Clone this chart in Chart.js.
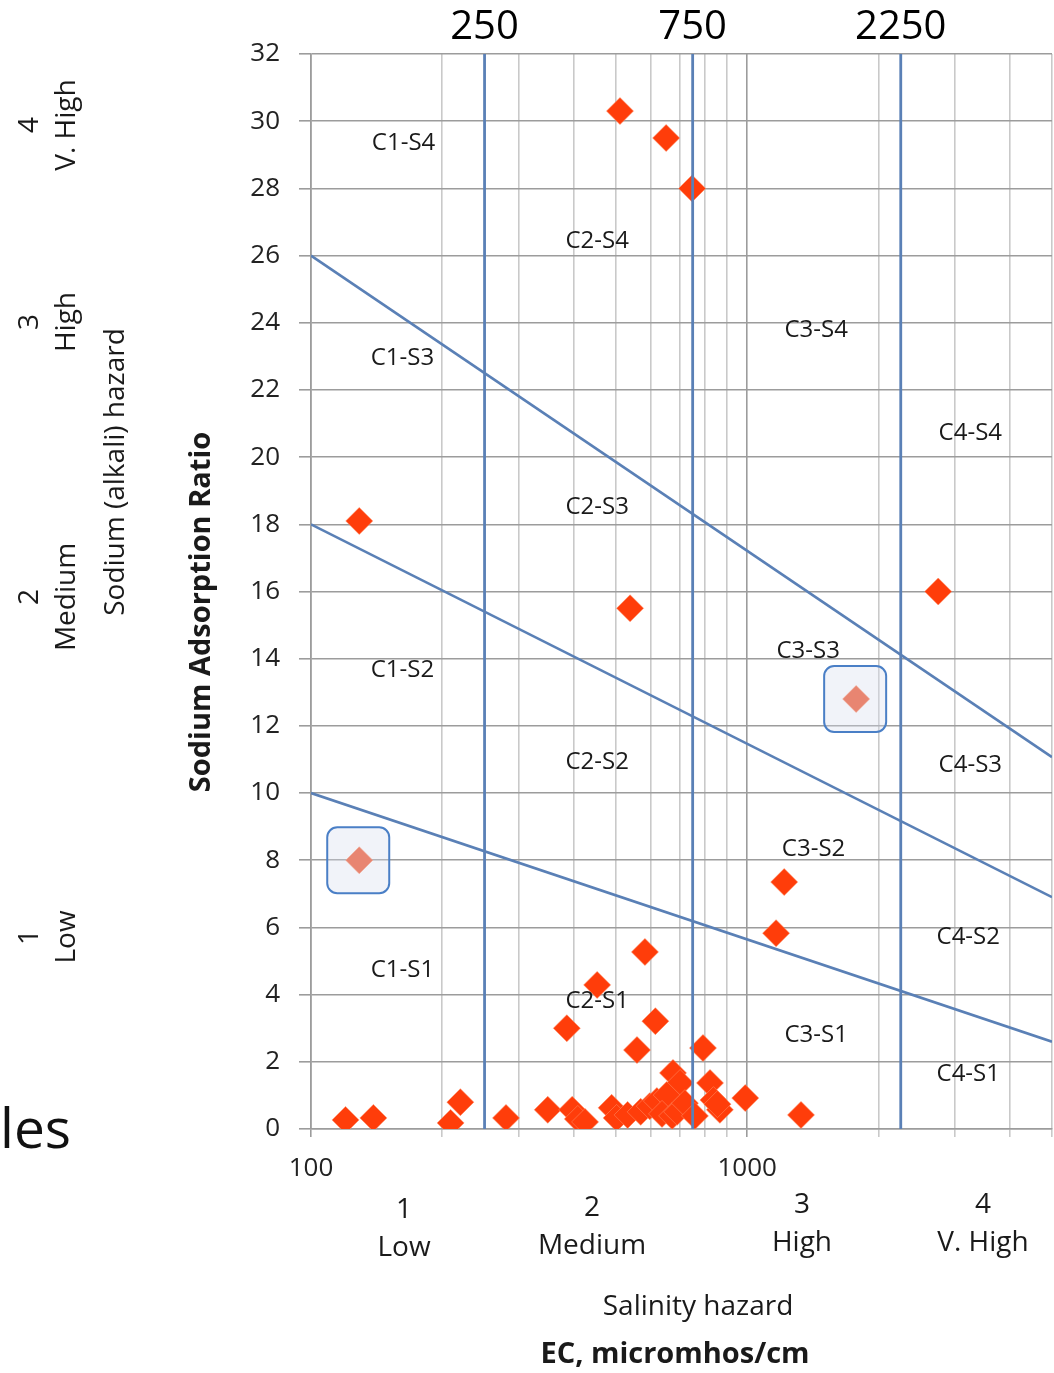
<!DOCTYPE html>
<html>
<head>
<meta charset="utf-8">
<script src="https://cdn.jsdelivr.net/npm/chart.js@4.4.1/dist/chart.umd.min.js"></script>
<style>
html,body{margin:0;padding:0;background:#fff;}
canvas{display:block;}
</style>
</head>
<body>
<canvas id="c" width="1054" height="1373"></canvas>
<script>
// ---- data ----
const sampleEC  = [511, 652, 748, 129, 539, 2742, 1216, 1165, 583, 453,
                   386, 616, 559, 792, 676, 702, 822, 990, 1329, 120,
                   139, 209, 220, 280, 349, 397, 409, 425, 489, 502,
                   532, 570, 598, 621, 654, 638, 673, 691, 720, 759,
                   837, 866, 855];
const sampleSAR = [30.3, 29.5, 28.0, 18.1, 15.5, 16.0, 7.35, 5.83, 5.27, 4.29,
                   3.0, 3.21, 2.35, 2.41, 1.67, 1.37, 1.37, 0.92, 0.42, 0.27,
                   0.33, 0.18, 0.8, 0.33, 0.57, 0.57, 0.3, 0.21, 0.63, 0.33,
                   0.42, 0.51, 0.68, 0.83, 1.01, 0.45, 0.39, 0.51, 0.77, 0.39,
                   0.86, 0.57, 0.74];
const highlightedEC  = [1778, 129];
const highlightedSAR = [12.8, 8.0];

const salinityClassEC = [250, 750, 2250];
const salinityClassLabels = ['250', '750', '2250'];
const sarRange = [0, 32];
const hazardLineEC = [100, 5000];
const hazardLineS3S4 = [26, 11.07];
const hazardLineS2S3 = [18, 6.9];
const hazardLineS1S2 = [10, 2.6];

const ecRange = [100, 5000];
const ecGridTicks = [100, 200, 300, 400, 500, 600, 700, 800, 900, 1000, 2000, 3000, 4000, 5000];
const ecTickLabels = [100, 1000];
const sarStep = 2;

const zoneNames = ['C1-S4','C2-S4','C3-S4','C4-S4',
                   'C1-S3','C2-S3','C3-S3','C4-S3',
                   'C1-S2','C2-S2','C3-S2','C4-S2',
                   'C1-S1','C2-S1','C3-S1','C4-S1'];
const zoneEC  = [163, 453, 1440, 3248,
                 162, 453, 1380, 3248,
                 162, 453, 1420, 3213,
                 162, 453, 1440, 3213];
const zoneSAR = [29.35, 26.43, 23.78, 20.71,
                 22.95, 18.51, 14.23, 10.83,
                 13.66, 10.92, 8.33, 5.71,
                 4.73, 3.81, 2.80, 1.64];

const sodiumClassNumbers = ['4', '3', '2', '1'];
const sodiumClassNames = ['V. High', 'High', 'Medium', 'Low'];
const salinityClassNumbers = ['1', '2', '3', '4'];
const salinityClassNames = ['Low', 'Medium', 'High', 'V. High'];

// ---- styles ----
const FONT = '"Open Sans", "DejaVu Sans", sans-serif';
const BLUE = '#5a80b6';
const MARK = '#ff3d0a';

function pts(xs, ys) { return xs.map((x, i) => ({x: x, y: ys[i]})); }

const lineDatasets = [];
salinityClassEC.forEach(v => {
  lineDatasets.push({
    data: pts([v, v], sarRange), showLine: true, borderColor: BLUE, borderWidth: 2.8,
    pointRadius: 0, order: 0
  });
});
[hazardLineS3S4, hazardLineS2S3, hazardLineS1S2].forEach(l => {
  lineDatasets.push({
    data: pts(hazardLineEC, l), showLine: true, borderColor: BLUE, borderWidth: 2.6,
    pointRadius: 0, order: 0
  });
});

const overlayPlugin = {
  id: 'overlay',
  afterDatasetsDraw(chart) {
    const ctx = chart.ctx, xs = chart.scales.x, ys = chart.scales.y;
    ctx.save();
    highlightedEC.forEach((v, i) => {
      const px = xs.getPixelForValue(v), py = ys.getPixelForValue(highlightedSAR[i]);
      ctx.beginPath();
      ctx.roundRect(px - 32, py - 33, 62, 66, 10);
      ctx.fillStyle = 'rgba(214,222,238,0.35)';
      ctx.fill();
      ctx.lineWidth = 2;
      ctx.strokeStyle = '#4a7fc6';
      ctx.stroke();
    });
    ctx.restore();
  },
  afterDraw(chart) {
    const ctx = chart.ctx, xs = chart.scales.x, ys = chart.scales.y;
    ctx.save();
    ctx.fillStyle = '#1a1a1a';
    ctx.textAlign = 'center';
    ctx.textBaseline = 'middle';
    ctx.font = '24px ' + FONT;
    zoneNames.forEach((n, i) => {
      ctx.fillText(n, xs.getPixelForValue(zoneEC[i]), ys.getPixelForValue(zoneSAR[i]));
    });
    ctx.fillStyle = '#000';
    ctx.font = '40px ' + FONT;
    salinityClassEC.forEach((v, i) => {
      ctx.fillText(salinityClassLabels[i], xs.getPixelForValue(v), 28);
    });
    ctx.fillStyle = '#1a1a1a';
    const leftY = [125, 322, 597, 937];
    function vtext(t, x, y, font) {
      ctx.save(); ctx.translate(x, y); ctx.rotate(-Math.PI / 2);
      ctx.font = font; ctx.fillText(t, 0, 0); ctx.restore();
    }
    sodiumClassNumbers.forEach((t, i) => {
      vtext(t, 30, leftY[i], '28px ' + FONT);
      vtext(sodiumClassNames[i], 67, leftY[i], '28px ' + FONT);
    });
    vtext('Sodium (alkali) hazard', 116, 472, '28px ' + FONT);
    vtext('Sodium Adsorption Ratio', 202, 612, 'bold 29px ' + FONT);
    const botX = [404, 592, 802, 983];
    const botY1 = [1210, 1208, 1205, 1205];
    ctx.font = '28px ' + FONT;
    salinityClassNumbers.forEach((t, i) => {
      ctx.fillText(t, botX[i], botY1[i]);
      ctx.fillText(salinityClassNames[i], botX[i], botY1[i] + 38);
    });
    ctx.fillText('Salinity hazard', 698, 1307);
    ctx.font = 'bold 29px ' + FONT;
    ctx.fillText('EC, micromhos/cm', 675, 1355);
    ctx.font = '55px ' + FONT;
    ctx.textAlign = 'left';
    ctx.fillStyle = '#111';
    ctx.fillText('les', 0, 1132);
    ctx.restore();
  }
};

function draw() {
  new Chart(document.getElementById('c'), {
    type: 'scatter',
    data: {
      datasets: [
        ...lineDatasets,
        {
          data: pts(sampleEC, sampleSAR), pointStyle: 'rectRot', pointRadius: 13.5,
          backgroundColor: MARK, borderColor: 'rgba(255,140,100,0.55)', borderWidth: 1, order: 1
        },
        {
          data: pts(highlightedEC, highlightedSAR), pointStyle: 'rectRot', pointRadius: 13.5,
          backgroundColor: '#f2562e', borderColor: 'rgba(255,140,100,0.55)', borderWidth: 1, order: 1
        }
      ]
    },
    options: {
      responsive: false,
      animation: false,
      events: [],
      layout: { autoPadding: false, padding: { top: 54, right: 2, left: 0, bottom: 0 } },
      plugins: { legend: { display: false }, tooltip: { enabled: false } },
      scales: {
        x: {
          type: 'logarithmic', min: ecRange[0], max: ecRange[1],
          afterBuildTicks(s) { s.ticks = ecGridTicks.map(v => ({ value: v })); },
          afterFit(s) { s.height = 244; s.paddingRight = 0; },
          ticks: {
            autoSkip: false, maxRotation: 0, padding: 16, color: '#222',
            font: { family: FONT, size: 26 },
            callback: v => ecTickLabels.includes(v) ? String(v) : ''
          },
          grid: {
            color: c => (c.tick && ecTickLabels.includes(c.tick.value)) ? '#9c9c9c' : '#c9c9c9',
            lineWidth: 1.6, tickLength: 8
          },
          border: { color: '#9c9c9c', width: 1.6 }
        },
        y: {
          type: 'linear', min: sarRange[0], max: sarRange[1],
          afterFit(s) { s.width = 311; },
          ticks: { stepSize: sarStep, padding: 19, color: '#222', font: { family: FONT, size: 26 } },
          grid: { color: '#9c9c9c', lineWidth: 1.6, tickLength: 12 },
          border: { color: '#9c9c9c', width: 1.6 }
        }
      }
    },
    plugins: [overlayPlugin]
  });
}
Promise.all([
  document.fonts.load('26px "Open Sans"'),
  document.fonts.load('bold 29px "Open Sans"')
]).then(draw, draw);
</script>
</body>
</html>
